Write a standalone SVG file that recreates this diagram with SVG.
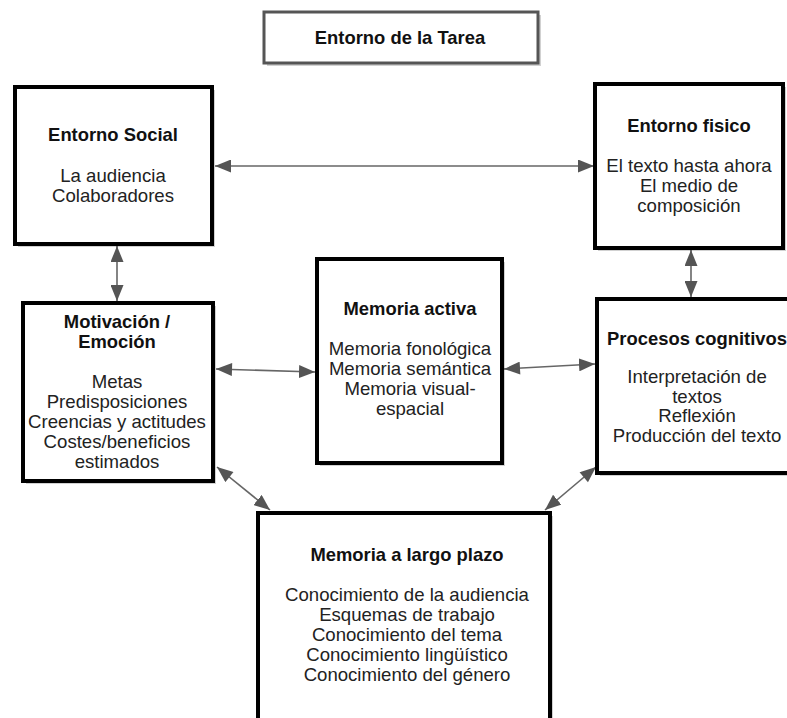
<svg xmlns="http://www.w3.org/2000/svg" width="787" height="718" viewBox="0 0 787 718">
  <defs>
    <style>
      .box { fill: #ffffff; stroke: #000000; stroke-width: 4; }
      .shadow { fill: #000000; opacity: 0.18; }
      .task { fill: #ffffff; stroke: #555555; stroke-width: 3; }
      .title { font-family: "Liberation Sans", Arial, sans-serif; font-weight: bold; font-size: 18.4px; fill: #111111; text-anchor: middle; }
      .body { font-family: "Liberation Sans", Arial, sans-serif; font-size: 18.6px; fill: #222222; text-anchor: middle; }
      .link { stroke: #666666; stroke-width: 1.6; fill: none; marker-start: url(#tail); marker-end: url(#head); }
    </style>
    <marker id="head" markerUnits="userSpaceOnUse" markerWidth="17" markerHeight="13" refX="16" refY="6.5" orient="auto">
      <path d="M0,0 L16,6.5 L0,13 Z" fill="#555555"/>
    </marker>
    <marker id="tail" markerUnits="userSpaceOnUse" markerWidth="17" markerHeight="13" refX="0" refY="6.5" orient="auto">
      <path d="M16,0 L0,6.5 L16,13 Z" fill="#555555"/>
    </marker>
  </defs>

  <rect width="787" height="718" fill="#ffffff"/>

  <!-- task environment heading -->
  <g id="entorno-tarea">
    <rect class="shadow" x="267" y="15" width="274" height="51"/>
    <rect class="task" x="264" y="12" width="274" height="51"/>
    <text class="title" x="400" y="44" font-size="17">Entorno de la Tarea</text>
  </g>

  <!-- connectors -->
  <g id="connectors">
    <line class="link" x1="215" y1="166" x2="594" y2="166"/>
    <line class="link" x1="117" y1="246" x2="117" y2="301"/>
    <line class="link" x1="691" y1="250" x2="691" y2="297"/>
    <line class="link" x1="216" y1="369" x2="315" y2="372"/>
    <line class="link" x1="504" y1="369" x2="595" y2="364"/>
    <line class="link" x1="217" y1="467" x2="270" y2="510"/>
    <line class="link" x1="596" y1="467" x2="545" y2="510"/>
  </g>

  <g id="entorno-social">
    <rect class="shadow" x="18" y="90" width="197" height="157"/>
    <rect class="box" x="15" y="87" width="197" height="157"/>
    <text class="title" x="113" y="141">Entorno Social</text>
    <text class="body" x="113" y="182">La audiencia</text>
    <text class="body" x="113" y="202">Colaboradores</text>
  </g>

  <g id="entorno-fisico">
    <rect class="shadow" x="598" y="87" width="188" height="164"/>
    <rect class="box" x="595" y="84" width="188" height="164"/>
    <text class="title" x="689" y="132">Entorno fisico</text>
    <text class="body" x="689" y="172">El texto hasta ahora</text>
    <text class="body" x="689" y="192">El medio de</text>
    <text class="body" x="689" y="212">composición</text>
  </g>

  <g id="motivacion">
    <rect class="shadow" x="26" y="306" width="190" height="178"/>
    <rect class="box" x="23" y="303" width="190" height="178"/>
    <text class="title" x="117" y="328">Motivación /</text>
    <text class="title" x="117" y="348">Emoción</text>
    <text class="body" x="117" y="388">Metas</text>
    <text class="body" x="117" y="408">Predisposiciones</text>
    <text class="body" x="117" y="428">Creencias y actitudes</text>
    <text class="body" x="117" y="448">Costes/beneficios</text>
    <text class="body" x="117" y="468">estimados</text>
  </g>

  <g id="memoria-activa">
    <rect class="shadow" x="320" y="262" width="185" height="204"/>
    <rect class="box" x="317" y="259" width="185" height="204"/>
    <text class="title" x="410" y="315">Memoria activa</text>
    <text class="body" x="410" y="355">Memoria fonológica</text>
    <text class="body" x="410" y="375">Memoria semántica</text>
    <text class="body" x="410" y="395">Memoria visual-</text>
    <text class="body" x="410" y="415">espacial</text>
  </g>

  <g id="procesos-cognitivos">
    <rect class="shadow" x="600" y="302" width="210" height="174"/>
    <rect class="box" x="597" y="299" width="210" height="174"/>
    <text class="title" x="697" y="345">Procesos cognitivos</text>
    <text class="body" x="697" y="383">Interpretación de</text>
    <text class="body" x="697" y="403">textos</text>
    <text class="body" x="697" y="422">Reflexión</text>
    <text class="body" x="697" y="442">Producción del texto</text>
  </g>

  <g id="memoria-largo-plazo">
    <rect class="shadow" x="261" y="516" width="292" height="220"/>
    <rect class="box" x="258" y="513" width="292" height="220"/>
    <text class="title" x="407" y="561">Memoria a largo plazo</text>
    <text class="body" x="407" y="601">Conocimiento de la audiencia</text>
    <text class="body" x="407" y="621">Esquemas de trabajo</text>
    <text class="body" x="407" y="641">Conocimiento del tema</text>
    <text class="body" x="407" y="661">Conocimiento lingüístico</text>
    <text class="body" x="407" y="681">Conocimiento del género</text>
  </g>
</svg>
